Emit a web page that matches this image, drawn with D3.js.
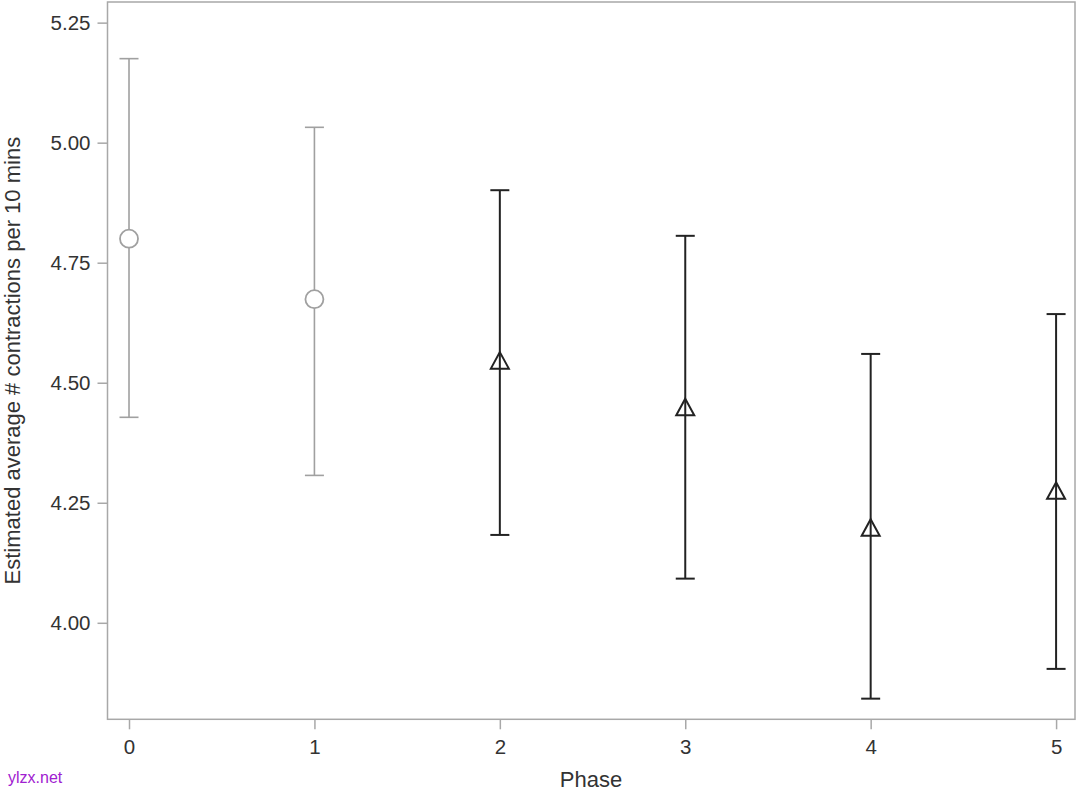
<!DOCTYPE html>
<html><head><meta charset="utf-8">
<script src="https://cdn.jsdelivr.net/npm/d3@7"></script>
<style>body{margin:0;background:#fff}svg{display:block}text{font-family:"Liberation Sans",Arial,sans-serif}</style>
</head><body><svg id="c" width="1080" height="793"></svg>
<script>
const phases = [0, 1, 2, 3, 4, 5];
const means  = [4.800, 4.674, 4.545, 4.448, 4.197, 4.274];
const upper  = [5.175, 5.032, 4.901, 4.806, 4.560, 4.643];
const lower  = [4.428, 4.307, 4.183, 4.092, 3.842, 3.904];
const groups = ["pre", "pre", "post", "post", "post", "post"];
const yTicks = [4.00, 4.25, 4.50, 4.75, 5.00, 5.25];
const xTicks = [0, 1, 2, 3, 4, 5];

const svg = d3.select("#c");
const L = 107.5, R = 1075, T = 2, B = 719.3;
const x = d3.scaleLinear().domain([-0.116, 5.102]).range([L, R]);
const y = d3.scaleLinear().domain([3.799, 5.293]).range([B, T]);
const frame = "#a8a8a8";

svg.append("rect").attr("x", L).attr("y", T).attr("width", R - L).attr("height", B - T)
  .attr("fill", "none").attr("stroke", frame).attr("stroke-width", 1.5);

const ya = svg.append("g").attr("transform", `translate(${L},0)`)
  .call(d3.axisLeft(y).tickValues(yTicks).tickFormat(d3.format(".2f")).tickSize(10).tickPadding(7));
const xa = svg.append("g").attr("transform", `translate(0,${B})`)
  .call(d3.axisBottom(x).tickValues(xTicks).tickFormat(d3.format("d")).tickSize(10).tickPadding(10));
[ya, xa].forEach(a => {
  a.select(".domain").remove();
  a.selectAll("line").attr("stroke", frame).attr("stroke-width", 1.5);
  a.selectAll("text").attr("fill", "#333").style("font-size", "20.5px").style("font-family", '"Liberation Sans",Arial,sans-serif');
});

svg.append("text").attr("x", 591).attr("y", 787).attr("text-anchor", "middle")
  .attr("fill", "#333").style("font-size", "22px").text("Phase");
svg.append("text").attr("transform", `translate(19.5,${(T + B) / 2}) rotate(-90)`)
  .attr("text-anchor", "middle").attr("fill", "#333").style("font-size", "22px")
  .text("Estimated average # contractions per 10 mins");

svg.append("text").attr("x", 8).attr("y", 783).attr("fill", "#a020d0")
  .style("font-size", "16px").text("ylzx.net");

const data = phases.map((p, i) => ({p, m: means[i], u: upper[i], l: lower[i], g: groups[i]}));
const col = d => d.g === "pre" ? "#a0a0a0" : "#222";
const sw = d => d.g === "pre" ? 1.6 : 2;
const cap = 9.5;

const g = svg.append("g");
const e = g.selectAll("g.e").data(data).join("g").attr("class", "e");
e.append("line").attr("x1", d => x(d.p)).attr("x2", d => x(d.p))
  .attr("y1", d => y(d.u)).attr("y2", d => y(d.l)).attr("stroke", col).attr("stroke-width", sw);
e.append("line").attr("x1", d => x(d.p) - cap).attr("x2", d => x(d.p) + cap)
  .attr("y1", d => y(d.u)).attr("y2", d => y(d.u)).attr("stroke", col).attr("stroke-width", sw);
e.append("line").attr("x1", d => x(d.p) - cap).attr("x2", d => x(d.p) + cap)
  .attr("y1", d => y(d.l)).attr("y2", d => y(d.l)).attr("stroke", col).attr("stroke-width", sw);

e.filter(d => d.g === "pre").append("circle")
  .attr("cx", d => x(d.p)).attr("cy", d => y(d.m)).attr("r", 9)
  .attr("fill", "#fff").attr("stroke", col).attr("stroke-width", 1.8);
e.filter(d => d.g === "post").append("path")
  .attr("d", d => {
    const cx = x(d.p), cy = y(d.m);
    return `M${cx},${cy - 9}L${cx + 9},${cy + 7.5}L${cx - 9},${cy + 7.5}Z`;
  })
  .attr("fill", "none").attr("stroke", col).attr("stroke-width", 2).attr("stroke-linejoin", "miter");
</script></body></html>
